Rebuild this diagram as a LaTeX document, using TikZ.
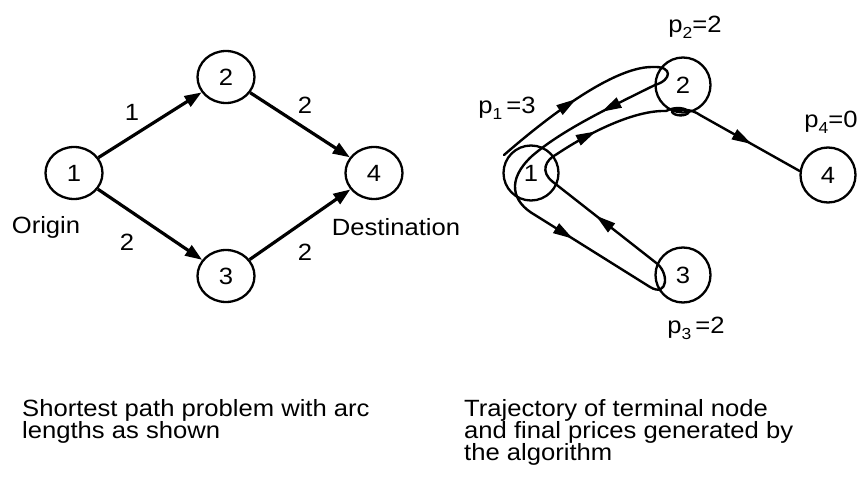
\documentclass[tikz,border=0pt]{standalone}
\usepackage{fontspec}
\setmainfont{Liberation Sans}[FakeStretch=1.09]
\usetikzlibrary{arrows.meta,shapes.geometric,decorations.markings}
\newcommand\plab[2]{p\raisebox{-0.5ex}{\fontsize{16}{16}\selectfont #1}#2}
\begin{document}
\begin{tikzpicture}[x=1pt,y=-1pt,
 every node/.style={font=\fontsize{23.5}{23.5}\selectfont},
 lnode/.style={ellipse,draw,line width=2.3pt,minimum width=57pt,minimum height=52pt,inner sep=0pt},
 rnode/.style={circle,draw,line width=2.3pt,minimum size=55pt,inner sep=0pt},
 edge/.style={line width=3.2pt,-{Triangle[length=17pt,width=12pt]}},
 traj/.style={line width=2.4pt,line cap=round,line join=round},
 midarr/.style={postaction={decorate,decoration={markings,mark=at position #1 with {\arrow{Triangle[length=20pt,width=11pt]}}}}},
 lbl/.style={inner sep=0pt},
 captxt/.style={inner sep=0pt,anchor=base west}
]
\useasboundingbox (0,0) rectangle (866,478);
% left graph
\node[lnode] (L1) at (74,173) {1};
\node[lnode] (L2) at (226,77) {2};
\node[lnode] (L3) at (226,276) {3};
\node[lnode] (L4) at (374,173) {4};
\draw[edge] (L1) -- (L2);
\draw[edge] (L1) -- (L3);
\draw[edge] (L2) -- (L4);
\draw[edge] (L3) -- (L4);
\node[lbl] (w12) at (132,112) {1};
\node[lbl] (w24) at (305,105) {2};
\node[lbl] (w13) at (127,242) {2};
\node[lbl] (w34) at (305,252) {2};
\node[lbl] (orig) at (46,227) {Origin};
\node[lbl] (dest) at (396,227) {Destination};
% right graph
\node[rnode] (R1) at (531,173) {1};
\node[rnode] (R2) at (683,85) {2};
\node[rnode] (R3) at (683,275) {3};
\node[rnode] (R4) at (828,175) {4};
\node[lbl] (p2) at (695,27) {\plab{2}{=2}};
\node[lbl] (p1) at (507,108) {\plab{1}{\,=3}};
\node[lbl] (p4) at (831,122) {\plab{4}{=0}};
\node[lbl] (p3) at (696,328) {\plab{3}{\,=2}};
% trajectory
\coordinate (s) at (504,155);
\coordinate (a) at (653,67);
\coordinate (b) at (655,85);
\coordinate (c) at (532,156);
\coordinate (d) at (535,215);
\coordinate (e) at (650,287);
\coordinate (f) at (655,262);
\coordinate (g) at (553,182);
\coordinate (h) at (557,154);
\coordinate (k) at (666,111);
\coordinate (m) at (700,115);
\draw[traj,midarr=0.52] (s) .. controls (535,128) and (610,66) .. (a);
\draw[traj] (a) .. controls (673,66) and (672,80) .. (b);
\draw[traj,midarr=0.42] (b) .. controls (600,112) and (560,132) .. (c);
\draw[traj] (c) .. controls (506,180) and (512,202) .. (d);
\draw[traj,midarr=0.33] (d) -- (e);
\draw[traj] (e) .. controls (668,298) and (670,272) .. (f);
\draw[traj,midarr=0.58] (f) -- (g);
\draw[traj] (g) .. controls (540,172) and (545,160) .. (h);
\draw[traj,midarr=0.38] (h) .. controls (590,132) and (635,110) .. (k);
\draw[traj] (k) .. controls (676,106) and (686,108) .. (689,112) .. controls (686,117) and (674,116) .. (672,112) .. controls (678,108) and (692,109) .. (m);
\draw[traj,midarr=0.52] (m) -- (R4.172);
% captions
\node[captxt] (capL1) at (22,416) {Shortest path problem with arc};
\node[captxt] (capL2) at (22,438) {lengths as shown};
\node[captxt] (capR1) at (464,416) {Trajectory of terminal node};
\node[captxt] (capR2) at (464,438) {and final prices generated by};
\node[captxt] (capR3) at (464,460) {the algorithm};
\end{tikzpicture}
\end{document}
